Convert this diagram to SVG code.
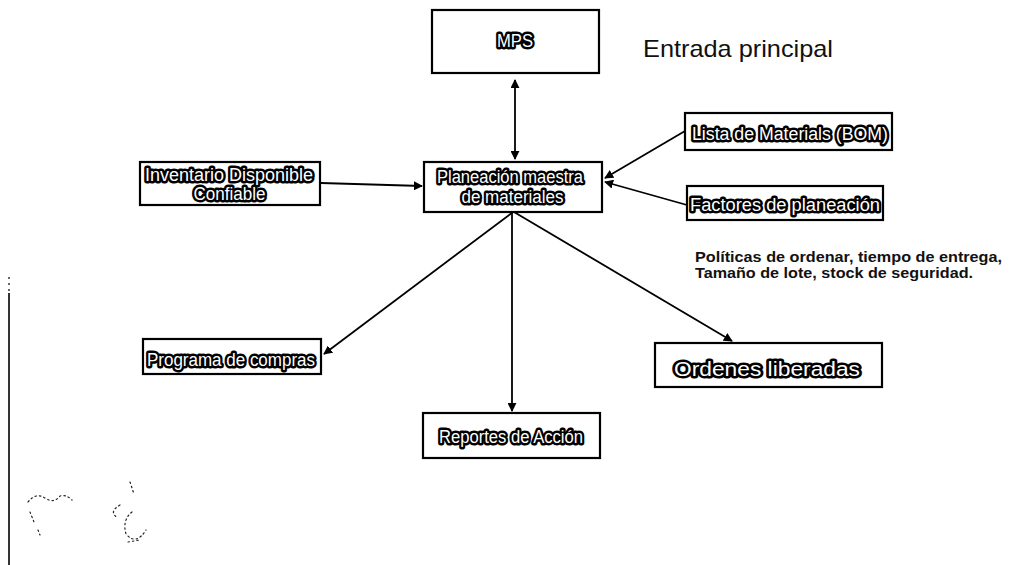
<svg xmlns="http://www.w3.org/2000/svg" width="1028" height="565" viewBox="0 0 1028 565">
  <style>
    .box { fill: #fff; stroke: #000; stroke-width: 2.2; }
    .lbl { font-family: "Liberation Sans", Arial, sans-serif; font-size: 18px; fill: #fff; stroke: #000; stroke-width: 5; stroke-linejoin: round; paint-order: stroke; text-anchor: middle; }
    .big { font-size: 20px; }
    .edge { fill: none; stroke: #000; stroke-width: 1.8; }
    .title { font-family: "Liberation Sans", Arial, sans-serif; font-size: 24px; fill: #111; }
    .note { font-family: "Liberation Sans", Arial, sans-serif; font-size: 15px; font-weight: bold; fill: #111; }
    .speck { fill: none; stroke: #222; stroke-width: 1.2; stroke-dasharray: 1.5 3; stroke-linecap: round; }
  </style>
  <defs>
    <marker id="arrow" viewBox="0 0 10 10" refX="9" refY="5" markerWidth="5" markerHeight="5" orient="auto-start-reverse" markerUnits="strokeWidth">
      <path d="M0,0 L10,5 L0,10 z" fill="#000"/>
    </marker>
  </defs>

  <rect width="1028" height="565" fill="#fff"/>

  <!-- connectors -->
  <g id="connectors">
    <line class="edge" x1="515" y1="80" x2="515" y2="159" marker-start="url(#arrow)" marker-end="url(#arrow)"/>
    <line class="edge" x1="321" y1="183" x2="422" y2="186" marker-end="url(#arrow)"/>
    <line class="edge" x1="685" y1="131" x2="605" y2="178" marker-end="url(#arrow)"/>
    <line class="edge" x1="687" y1="205" x2="605" y2="182" marker-end="url(#arrow)"/>
    <line class="edge" x1="513" y1="212" x2="324" y2="354" marker-end="url(#arrow)"/>
    <line class="edge" x1="512" y1="212" x2="512" y2="411" marker-end="url(#arrow)"/>
    <line class="edge" x1="514" y1="212" x2="732" y2="341" marker-end="url(#arrow)"/>
  </g>

  <g id="mps">
    <rect class="box" x="432" y="10" width="167" height="63"/>
    <text class="lbl" x="515" y="47" textLength="36" lengthAdjust="spacingAndGlyphs">MPS</text>
  </g>

  <text class="title" x="643" y="57" textLength="190" lengthAdjust="spacingAndGlyphs">Entrada principal</text>

  <g id="inventario">
    <rect class="box" x="140" y="162" width="180" height="43"/>
    <text class="lbl" x="229" y="181" textLength="168" lengthAdjust="spacingAndGlyphs">Inventario Disponible</text>
    <text class="lbl" x="229.5" y="200" textLength="72" lengthAdjust="spacingAndGlyphs">Confiable</text>
  </g>

  <g id="planeacion">
    <rect class="box" x="424" y="162" width="178" height="50"/>
    <text class="lbl" x="510" y="183" textLength="146" lengthAdjust="spacingAndGlyphs">Planeación maestra</text>
    <text class="lbl" x="512.5" y="203" textLength="102" lengthAdjust="spacingAndGlyphs">de materiales</text>
  </g>

  <g id="bom">
    <rect class="box" x="685" y="113" width="207" height="37"/>
    <text class="lbl" x="790" y="140" textLength="196" lengthAdjust="spacingAndGlyphs">Lista de Materials (BOM)</text>
  </g>

  <g id="factores">
    <rect class="box" x="687" y="186" width="196" height="34"/>
    <text class="lbl" x="785" y="211" textLength="190" lengthAdjust="spacingAndGlyphs">Factores de planeación</text>
  </g>

  <text class="note" x="695" y="262" textLength="307" lengthAdjust="spacingAndGlyphs">Políticas de ordenar, tiempo de entrega,</text>
  <text class="note" x="695" y="278" textLength="278" lengthAdjust="spacingAndGlyphs">Tamaño de lote, stock de seguridad.</text>

  <g id="programa">
    <rect class="box" x="143" y="339" width="178" height="35"/>
    <text class="lbl" x="231" y="366" textLength="168" lengthAdjust="spacingAndGlyphs">Programa de compras</text>
  </g>

  <g id="ordenes">
    <rect class="box" x="655" y="343" width="227" height="44"/>
    <text class="lbl big" x="767" y="376" textLength="186" lengthAdjust="spacingAndGlyphs">Ordenes liberadas</text>
  </g>

  <g id="reportes">
    <rect class="box" x="423" y="413" width="177" height="45"/>
    <text class="lbl" x="511" y="443" textLength="144" lengthAdjust="spacingAndGlyphs">Reportes de Acción</text>
  </g>

  <!-- margin rule and pencil marks -->
  <line x1="9" y1="277" x2="9" y2="293" stroke="#000" stroke-width="1.2" stroke-dasharray="2 4"/>
  <line x1="9" y1="293" x2="9" y2="565" stroke="#000" stroke-width="1.6"/>
  <path class="speck" d="M28,502 Q36,492 45,498 T60,496 Q66,494 72,500 M30,512 L34,522 M38,530 L40,535"/>
  <path class="speck" d="M130,482 L134,494 M120,505 Q108,512 118,518 M132,512 Q122,520 126,534 Q136,546 146,530 M128,542 L140,540"/>
</svg>
